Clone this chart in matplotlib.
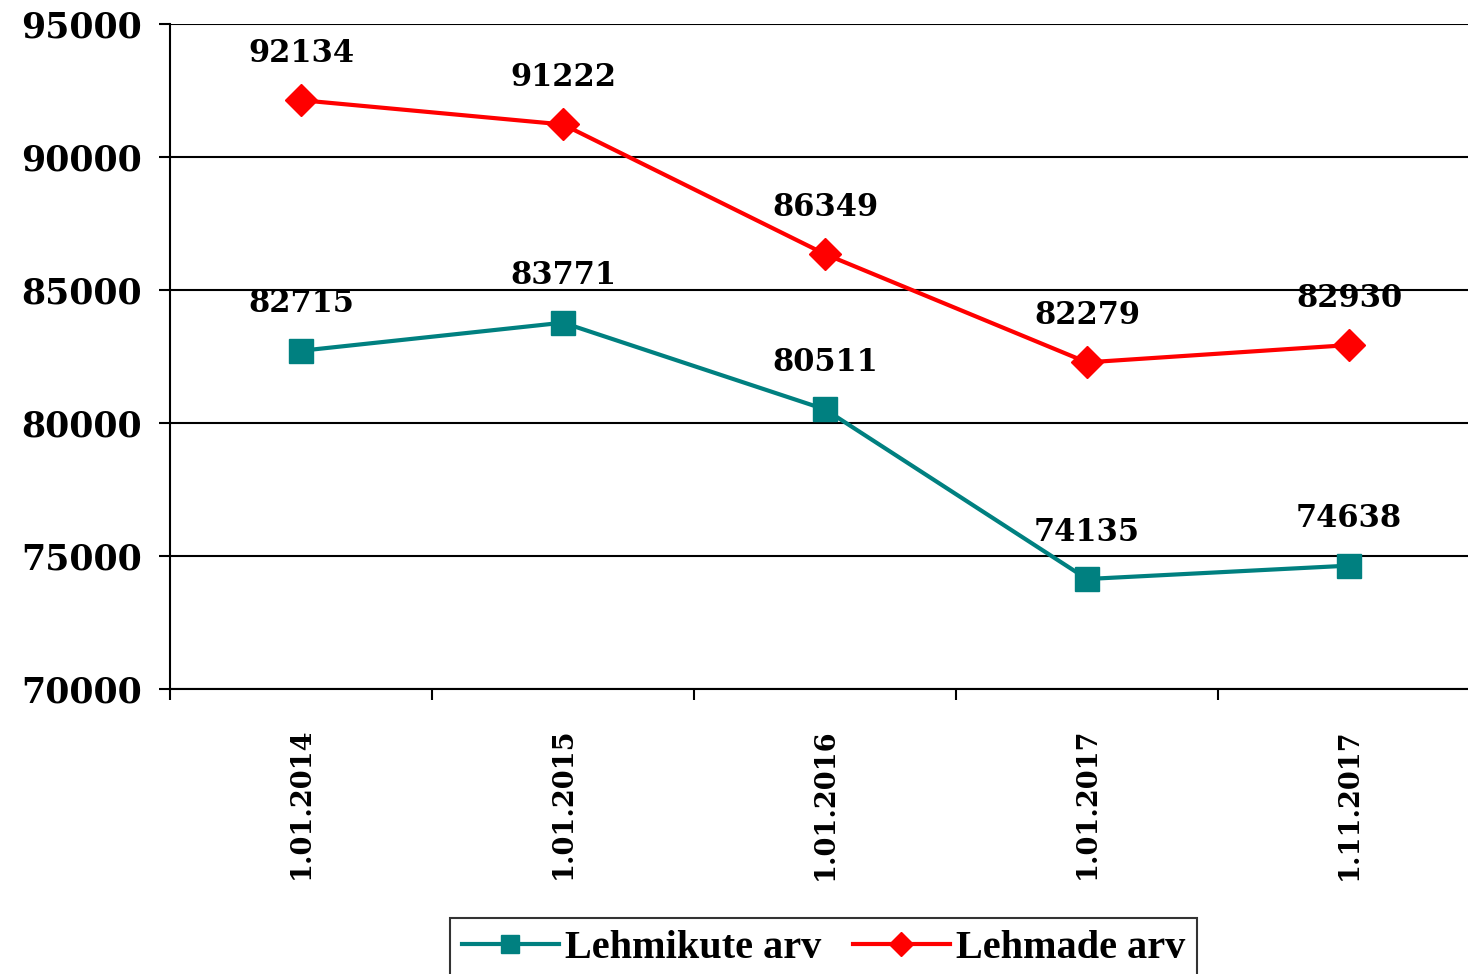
import numpy as np
import matplotlib
matplotlib.use('Agg')
import matplotlib.pyplot as plt

dates = ['1.01.2014', '1.01.2015', '1.01.2016', '1.01.2017', '1.11.2017']
lehmikute = [82715, 83771, 80511, 74135, 74638]
lehmade = [92134, 91222, 86349, 82279, 82930]
yticks = [70000, 75000, 80000, 85000, 90000, 95000]

teal = '#008080'
red = '#FF0000'
num_font = 'DejaVu Serif'

fig = plt.figure(figsize=(14.68, 9.74), dpi=100)
ax = fig.add_axes([0.1158, 0.2926, 0.8924, 0.6828])

x = np.arange(len(dates))
ax.plot(x, lehmikute, color=teal, lw=3, marker='s', ms=17,
        label='Lehmikute arv', zorder=3)
ax.plot(x, lehmade, color=red, lw=3, marker='D', ms=16,
        label='Lehmade arv', zorder=3)

for xi, v in zip(x, lehmikute):
    ax.annotate(str(v), (xi, v), xytext=(0, 47), textcoords='offset pixels',
                ha='center', va='center', fontsize=22, fontweight='bold',
                family=num_font, zorder=4)
for xi, v in zip(x, lehmade):
    ax.annotate(str(v), (xi, v), xytext=(0, 47), textcoords='offset pixels',
                ha='center', va='center', fontsize=22, fontweight='bold',
                family=num_font, zorder=4)

ax.set_xlim(-0.5, len(dates) - 0.5)
ax.set_ylim(70000, 95000)
ax.set_yticks(yticks)
ax.set_yticklabels([str(t) for t in yticks], fontsize=25, fontweight='bold',
                   family=num_font)
ax.set_xticks(x)
ax.set_xticklabels(dates, rotation=90, fontsize=19.5, fontweight='bold',
                   family=num_font)
ax.set_xticks(np.arange(len(dates) + 1) - 0.5, minor=True)
ax.tick_params(axis='x', which='major', length=0, pad=28)
ax.tick_params(axis='x', which='minor', length=8, width=1.5, direction='out')
ax.tick_params(axis='y', length=8, width=1.5, direction='out', pad=12)

ax.grid(axis='y', color='black', lw=1.5, zorder=1)
for s in ['top', 'right']:
    ax.spines[s].set_visible(False)
ax.spines['left'].set_linewidth(1.5)
ax.spines['bottom'].set_linewidth(1.5)

leg = fig.legend(loc='upper center', bbox_to_anchor=(0.561, 0.0575), ncol=2,
                 frameon=True, fancybox=False, edgecolor='black',
                 prop={'family': 'Liberation Serif', 'weight': 'bold', 'size': 29},
                 handlelength=2.4, handletextpad=0.15, columnspacing=0.8,
                 borderpad=0.3, borderaxespad=0, markerscale=0.75)
leg.get_frame().set_linewidth(1.5)

fig.savefig('out.png', dpi=100)
